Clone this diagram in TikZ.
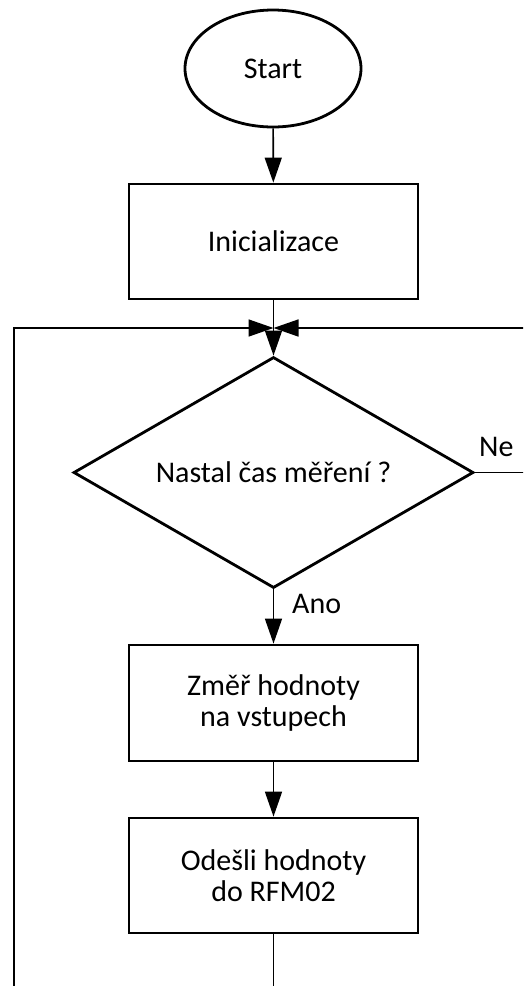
\documentclass[tikz,border=0pt]{standalone}
\usepackage{fontspec}
\setmainfont{Carlito}
\usetikzlibrary{shapes.geometric,arrows.meta}
\begin{document}
\begin{tikzpicture}[x=1pt,y=-1pt,
  every node/.style={font=\fontsize{30}{31}\selectfont, inner sep=0pt},
  shapebox/.style={draw, line width=2.8pt, align=center},
  procbox/.style={shapebox, rectangle, minimum width=289pt, minimum height=115pt},
  termnode/.style={shapebox, ellipse, minimum width=176pt, minimum height=117pt},
  decnode/.style={shapebox, diamond, aspect=1.73, minimum width=400pt, minimum height=231pt},
  conn/.style={line width=1.6pt},
  arr/.style={conn, -{Triangle[length=25pt,width=17pt]}},
  lbl/.style={anchor=west}]
\useasboundingbox (0,0) rectangle (523,986);
\clip (0,0) rectangle (523,986);

% flow nodes
\node[termnode] (start) at (273,68.5) {Start};
\node[procbox] (init) at (273.5,241.5) {Inicializace};
\coordinate (m) at (273.5,328);
\node[decnode] (dec) at (273.5,472.5) {Nastal čas měření ?};
\node[procbox, minimum height=116pt] (meas) at (273.5,703) {Změř hodnoty\\na vstupech};
\node[procbox] (send) at (273.5,875.5) {Odešli hodnoty\\do RFM02};

% return paths
\coordinate (lb) at (14,1010);
\coordinate (rc) at (545,472.5);

% connectors
\draw[arr] (start) -- (init);
\draw[conn] (init) -- (m);
\draw[arr] (m) -- (dec.north);
\draw[arr] (dec.south) -- (meas.north);
\draw[arr] (meas) -- (send);
\draw[arr] (send.south) |- (lb) |- (m);
\draw[arr] (dec.east) -- (rc) |- (m);

% branch labels
\node[lbl] (ne) at (479,447) {Ne};
\node[lbl] (ano) at (292,604) {Ano};
\end{tikzpicture}
\end{document}
